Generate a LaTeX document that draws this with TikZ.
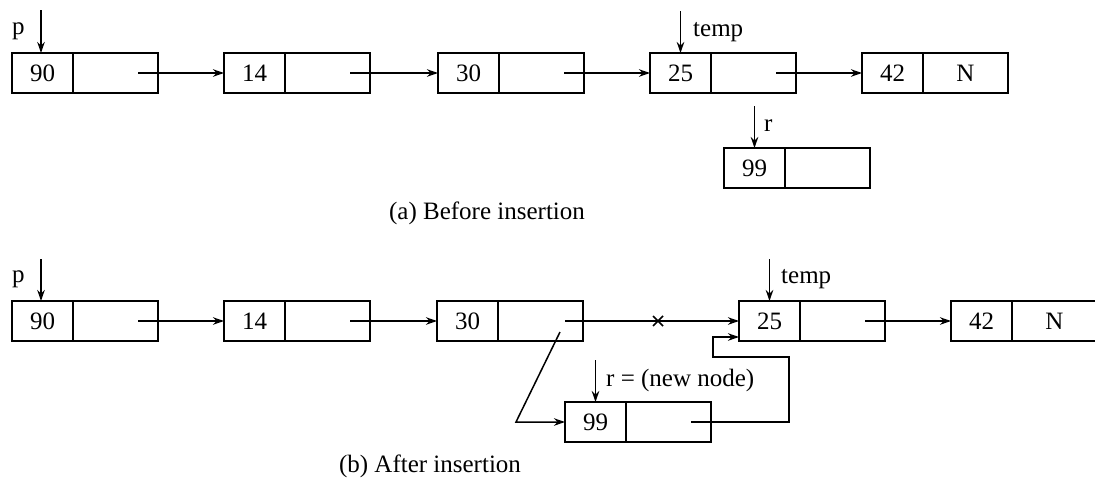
\documentclass[tikz,border=0pt]{standalone}
\usepackage{fontspec}
\setmainfont{Liberation Serif}
\usetikzlibrary{arrows.meta,positioning}
\begin{document}
\begin{tikzpicture}[x=1pt,y=-1pt,
  font=\fontsize{25}{28}\selectfont,
  datacell/.style={draw,line width=1.8pt,minimum width=61pt,minimum height=40pt,
    inner sep=0pt,outer sep=0pt,anchor=west},
  ptrcell/.style={draw,line width=1.8pt,minimum width=85pt,minimum height=40pt,
    inner sep=0pt,outer sep=0pt,anchor=west},
  link/.style={line width=1.5pt,-{Stealth[length=11pt,width=7.5pt]}},
  label/.style={inner sep=0pt,anchor=west}]
\useasboundingbox (0,0) rectangle (1095,488);
\fill[white] (0,0) rectangle (1095,488);

% list node: data cell + pointer cell
\newcommand\listnode[5]{%
  \node[datacell] (#1d) at (#2,#3) {#4};
  \node[ptrcell] (#1p) at (#1d.east) {#5};}

% ---------- (a) before insertion ----------
\listnode{a1}{12}{73}{90}{}
\listnode{a2}{224}{73}{14}{}
\listnode{a3}{438}{73}{30}{}
\listnode{a4}{650}{73}{25}{}
\listnode{a5}{862}{73}{42}{N}
\listnode{ar}{724}{168}{99}{}

\foreach \s/\t in {a1/a2,a2/a3,a3/a4,a4/a5}
  \draw[link] ([xshift=-20pt]\s p.east) -- (\t d.west);

\coordinate (ap) at (41,10);
\draw[link] (ap) -- (ap |- a1d.north);
\node[label] (aplab) at (12,31) {p};
\draw[link] ([yshift=42pt]a4d.north) -- (a4d.north);
\node[label] (atemp) at (693,32) {temp};
\draw[link] ([yshift=42pt]ard.north) -- (ard.north);
\node[label] (arlab) at (764,126) {r};

\node (capa) at (487,213) {(a) Before insertion};

% ---------- (b) after insertion ----------
\listnode{b1}{12}{321}{90}{}
\listnode{b2}{224}{321}{14}{}
\listnode{b3}{437}{321}{30}{}
\listnode{b4}{739}{321}{25}{}
\listnode{b5}{951}{321}{42}{N}
\listnode{br}{565}{422}{99}{}

\foreach \s/\t in {b1/b2,b2/b3,b4/b5}
  \draw[link] ([xshift=-20pt]\s p.east) -- (\t d.west);

% old link, crossed out
\draw[link] ([xshift=-18pt]b3p.east) -- (b4d.west);
\coordinate (cross) at (658,321);
\draw[line width=1.5pt] ([shift={(-5,-5)}]cross) -- ([shift={(5,5)}]cross)
  ([shift={(-5,5)}]cross) -- ([shift={(5,-5)}]cross);

% new link from 30 to the new node
\coordinate (bend) at (516,422);
\draw[link] ([xshift=-23pt,yshift=-11pt]b3p.east) -- (bend) -- (brd.west);

% new node points to 25
\coordinate (loopR) at (789,357);
\coordinate (loopL) at (713,357);
\draw[link] ([xshift=-20pt]brp.east) -| (loopR) -- (loopL) |- ([yshift=-16pt]b4d.west);

\coordinate (bp) at (41,259);
\draw[link] (bp) -- (bp |- b1d.north);
\node[label] (bplab) at (12,279) {p};
\draw[link] ([yshift=42pt]b4d.north) -- (b4d.north);
\node[label] (btemp) at (781,279) {temp};
\draw[link] ([yshift=42pt]brd.north) -- (brd.north);
\node[label] (brlab) at (606,380) {r = (new node)};

\node (capb) at (430,466) {(b) After insertion};
\end{tikzpicture}
\end{document}
